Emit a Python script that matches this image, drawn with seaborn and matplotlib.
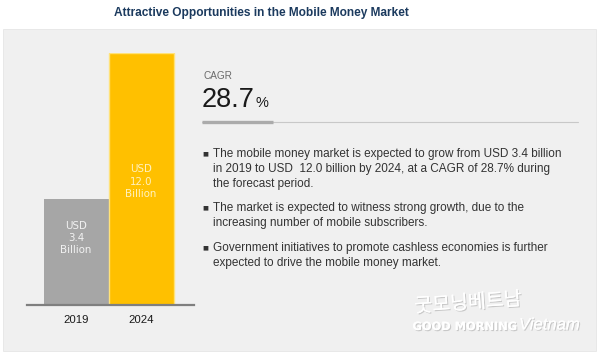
import numpy as np
import pandas as pd
import seaborn as sns
import matplotlib.pyplot as plt
from matplotlib.patches import Rectangle
from matplotlib.lines import Line2D
import matplotlib.patheffects as pe

# chart data
years = ["2019", "2024"]
market_size = [3.4, 12.0]
bar_labels = ["USD\n3.4\nBillion", "USD\n12.0\nBillion"]
cagr = "28.7"
title = "Attractive Opportunities in the Mobile Money Market"
bullets = [
    "The mobile money market is expected to grow from USD 3.4 billion\n"
    "in 2019 to USD  12.0 billion by 2024, at a CAGR of 28.7% during\n"
    "the forecast period.",
    "The market is expected to witness strong growth, due to the\n"
    "increasing number of mobile subscribers.",
    "Government initiatives to promote cashless economies is further\n"
    "expected to drive the mobile money market.",
]

sns.set_theme(style="white")
plt.rcParams["font.family"] = ["Liberation Sans", "DejaVu Sans"]

W, H = 600, 355
fig = plt.figure(figsize=(6, 3.55), dpi=100, facecolor="white")


def fx(px):
    return px / W


def fy(py):
    return 1 - py / H


# grey panel behind everything
fig.patches.append(Rectangle((fx(3), fy(351)), fx(593), (351 - 29) / H,
                             transform=fig.transFigure, facecolor="#f0f0f0",
                             edgecolor="#e6e6e6", lw=0.6, zorder=-5))

fig.text(fx(261), fy(13), title, ha="center", va="center", fontsize=8.6,
         fontweight="bold", color="#1b3a5e")

# bars
ax = fig.add_axes([fx(27), fy(305), fx(167), 252 / H], zorder=2)
ax.patch.set_alpha(0)
df = pd.DataFrame({"year": years, "value": market_size})
p = 0.687
ax.set_yscale("function", functions=(lambda v: np.power(np.clip(v, 0, None), p),
                                      lambda v: np.power(np.clip(v, 0, None), 1 / p)))
sns.barplot(data=df, x="year", y="value", hue="year",
            palette=["#a6a6a6", "#ffc000"], width=1.0, legend=False, ax=ax,
            saturation=1)
ax.patches[1].set_edgecolor("#ffe27a")
ax.patches[1].set_linewidth(1.0)
ax.patches[0].set_linewidth(0)
ax.set_ylim(0, 12)
ax.set_xlim(-0.754, 1.815)
ax.set_xlabel("")
ax.set_ylabel("")
ax.set_yticks([])
for s in ["top", "left", "right"]:
    ax.spines[s].set_visible(False)
ax.spines["bottom"].set_color("#7f7f7f")
ax.spines["bottom"].set_linewidth(1.6)
ax.tick_params(axis="x", length=0, pad=7, labelsize=8.2, labelcolor="#1a1a1a")

label_pos = [0.266, 0.49]
label_col = ["#f2f2f2", "#fff2c0"]
for i, lab in enumerate(bar_labels):
    ax.text(i, label_pos[i], lab, transform=ax.get_xaxis_transform(),
            ha="center", va="center", fontsize=7.4, linespacing=1.3,
            color=label_col[i], family=["Liberation Sans Narrow", "DejaVu Sans"])

# CAGR block
fig.text(fx(203), fy(76), "CAGR", ha="left", va="center", fontsize=7.2,
         color="#6b6b6b")
t = fig.text(fx(202), fy(107), cagr, ha="left", va="baseline", fontsize=19.5,
             color="#1a1a1a")
fig.canvas.draw()
bb = t.get_window_extent()
fig.text((bb.x1 + 0.5) / W, fy(107), "%", ha="left", va="baseline",
         fontsize=10.5, color="#1a1a1a")

fig.add_artist(Line2D([fx(202), fx(578)], [fy(122), fy(122)],
                      transform=fig.transFigure, color="#c8c8c8", lw=0.8))
fig.add_artist(Line2D([fx(202), fx(273)], [fy(122), fy(122)],
                      transform=fig.transFigure, color="#ababab", lw=2.4,
                      solid_capstyle="butt"))

# bullet points
centers = [169, 215.5, 255.5]
firsts = [154, 208, 248]
for txt, c, f in zip(bullets, centers, firsts):
    fig.text(fx(213), fy(c), txt, ha="left", va="center", fontsize=8.5,
             linespacing=1.3, color="#333333")
    fig.text(fx(205.5), fy(f), "\u25a0", ha="center", va="center", fontsize=4.5,
             color="#333333", family=["DejaVu Sans"])

# watermark
sh = [pe.withSimplePatchShadow(offset=(0.8, -0.8), shadow_rgbFace="#c4c4c4",
                               alpha=0.9), pe.Normal()]
fig.text(fx(468), fy(303), "굿모닝베트남", ha="center", va="center",
         fontsize=14, color="white", family=["Noto Sans CJK KR", "DejaVu Sans"],
         rotation=4, path_effects=sh)
fig.text(fx(517), fy(327), "GOOD MORNING", ha="right", va="center",
         fontsize=8.2, fontweight="bold", color="white", path_effects=sh,
         family=["Liberation Sans Narrow", "DejaVu Sans"])
fig.text(fx(519), fy(325), "Vietnam", ha="left", va="center",
         fontsize=12, style="italic", color="white", path_effects=sh)

fig.savefig("out.png", dpi=100, facecolor="white")
